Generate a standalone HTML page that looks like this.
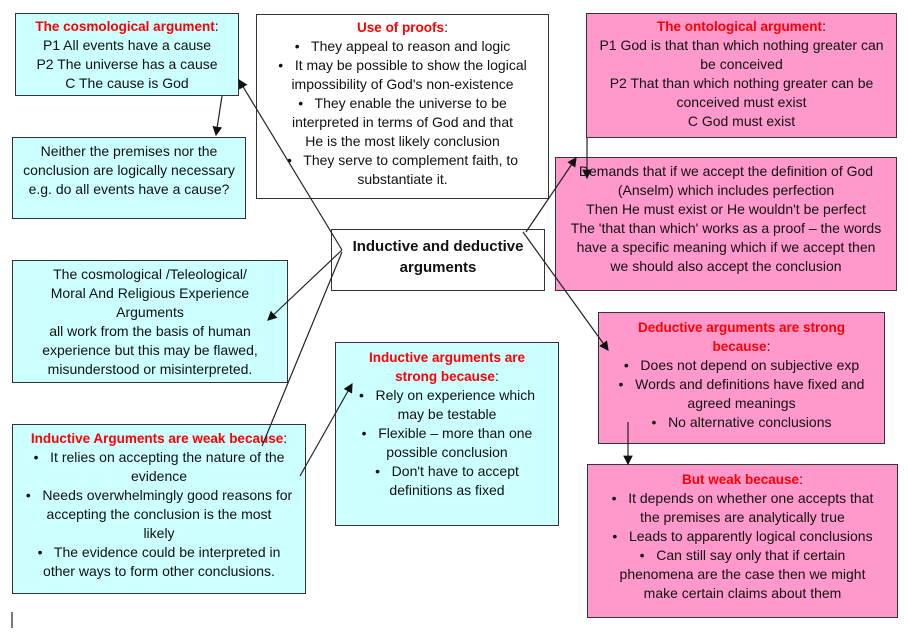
<!DOCTYPE html>
<html><head><meta charset="utf-8"><style>
body{margin:0;width:908px;height:635px;background:#fff;position:relative;overflow:hidden;font-family:"Liberation Sans",sans-serif;}
.b{position:absolute;box-sizing:border-box;border:1.5px solid #333;font-size:14px;line-height:19px;text-align:center;color:#111;padding-top:3px;white-space:nowrap}
.c{background:#ccffff}.p{background:#ff99cc}.w{background:#fff}
.r{color:#ff0000;font-weight:bold;font-size:13.5px}
svg{position:absolute;left:0;top:0}
</style></head><body>
<div class="b c" style="left:15px;top:13px;width:224px;height:83px"><span class="r">The cosmological argument</span>:<br>P1 All events have a cause<br>P2 The universe has a cause<br>C The cause is God</div>
<div class="b c" style="left:12px;top:137px;width:234px;height:82px;padding-top:4px">Neither the premises nor the<br>conclusion are logically necessary<br>e.g. do all events have a cause?</div>
<div class="b w" style="left:256px;top:14px;width:293px;height:185px"><span class="r">Use of proofs</span>:<br>•&nbsp;&nbsp; They appeal to reason and logic<br>•&nbsp;&nbsp; It may be possible to show the logical<br>impossibility of God's non-existence<br>•&nbsp;&nbsp; They enable the universe to be<br>interpreted in terms of God and that<br>He is the most likely conclusion<br>•&nbsp;&nbsp; They serve to complement faith, to<br>substantiate it.</div>
<div class="b p" style="left:586px;top:13px;width:311px;height:125px"><span class="r">The ontological argument</span>:<br>P1 God is that than which nothing greater can<br>be conceived<br>P2 That than which nothing greater can be<br>conceived must exist<br>C God must exist</div>
<div class="b p" style="left:555px;top:157px;width:342px;height:134px;padding-top:4px">Demands that if we accept the definition of God<br>(Anselm) which includes perfection<br>Then He must exist or He wouldn't be perfect<br>The 'that than which' works as a proof – the words<br>have a specific meaning which if we accept then<br>we should also accept the conclusion</div>
<div class="b w" style="left:331px;top:229px;width:214px;height:62px;font-size:15px;font-weight:bold;line-height:21px;padding-top:6px">Inductive and deductive<br>arguments</div>
<div class="b c" style="left:12px;top:260px;width:276px;height:123px;padding-top:4px">The cosmological /Teleological/<br>Moral And Religious Experience<br>Arguments<br>all work from the basis of human<br>experience but this may be flawed,<br>misunderstood or misinterpreted.</div>
<div class="b c" style="left:335px;top:342px;width:224px;height:184px;padding-top:5px"><span class="r">Inductive arguments are<br>strong because</span>:<br>•&nbsp;&nbsp; Rely on experience which<br>may be testable<br>•&nbsp;&nbsp; Flexible – more than one<br>possible conclusion<br>•&nbsp;&nbsp; Don't have to accept<br>definitions as fixed</div>
<div class="b c" style="left:12px;top:424px;width:294px;height:170px;padding-top:4px"><span class="r">Inductive Arguments are weak because</span>:<br>•&nbsp;&nbsp; It relies on accepting the nature of the<br>evidence<br>•&nbsp;&nbsp; Needs overwhelmingly good reasons for<br>accepting the conclusion is the most<br>likely<br>•&nbsp;&nbsp; The evidence could be interpreted in<br>other ways to form other conclusions.</div>
<div class="b p" style="left:598px;top:312px;width:287px;height:132px;padding-top:5px"><span class="r">Deductive arguments are strong<br>because</span>:<br>•&nbsp;&nbsp; Does not depend on subjective exp<br>•&nbsp;&nbsp; Words and definitions have fixed and<br>agreed meanings<br>•&nbsp;&nbsp; No alternative conclusions</div>
<div class="b p" style="left:587px;top:464px;width:311px;height:154px;padding-top:5px"><span class="r">But weak because</span>:<br>•&nbsp;&nbsp; It depends on whether one accepts that<br>the premises are analytically true<br>•&nbsp;&nbsp; Leads to apparently logical conclusions<br>•&nbsp;&nbsp; Can still say only that if certain<br>phenomena are the case then we might<br>make certain claims about them</div>
<svg width="908" height="635"><defs><marker id="a" markerWidth="8" markerHeight="8" refX="7" refY="4" orient="auto"><path d="M0,0 L8,4 L0,8 z" fill="#111"/></marker></defs>
<g stroke="#222" stroke-width="1.2" fill="none">
<line x1="342" y1="250" x2="239" y2="80" marker-end="url(#a)"/>
<line x1="222" y1="96" x2="216" y2="135" marker-end="url(#a)"/>
<line x1="342" y1="250" x2="268" y2="320" marker-end="url(#a)"/>
<line x1="342" y1="252" x2="262" y2="446"/>
<line x1="300" y1="476" x2="352" y2="384" marker-end="url(#a)"/>
<line x1="526" y1="232" x2="576" y2="158" marker-end="url(#a)"/>
<line x1="587" y1="138" x2="587" y2="178" marker-end="url(#a)"/>
<line x1="523" y1="232" x2="608" y2="350" marker-end="url(#a)"/>
<line x1="628" y1="422" x2="628" y2="464" marker-end="url(#a)"/>
<line x1="12" y1="612" x2="12" y2="628"/>
</g></svg>
</body></html>
